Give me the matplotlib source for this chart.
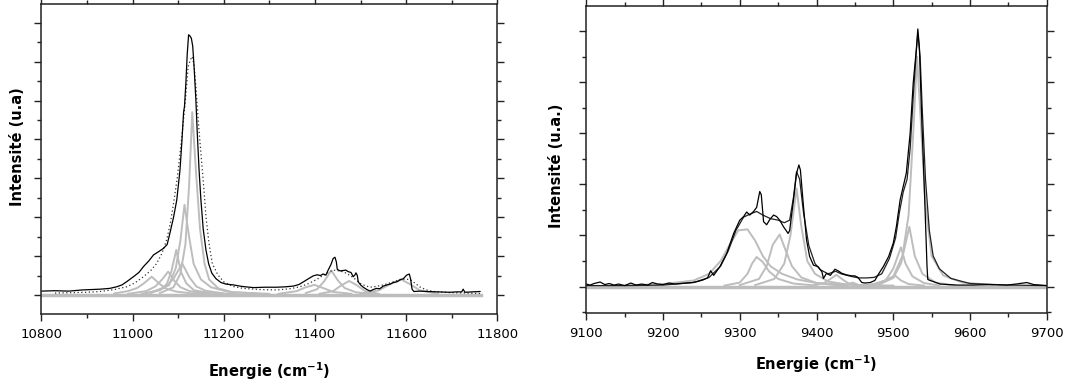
import numpy as np
import matplotlib
matplotlib.use('Agg')
import matplotlib.pyplot as plt
from matplotlib.ticker import MultipleLocator

# ---------------- left panel (10800 - 11800 cm-1) ----------------
left_exp_x = [10800, 10830, 10860, 10890, 10929, 10950, 10965, 10977, 10987, 11002, 11014, 11024,
              11036, 11046, 11058, 11068, 11076, 11082, 11090, 11097, 11104, 11108, 11112, 11114,
              11117, 11120, 11123, 11126, 11129, 11132, 11135, 11139, 11142, 11146, 11150, 11155,
              11161, 11167, 11174, 11183, 11194, 11205, 11221, 11240, 11265, 11290, 11316, 11335,
              11353, 11365, 11375, 11386, 11396, 11405, 11412, 11418, 11424, 11429, 11435, 11440,
              11444, 11447, 11449, 11455, 11462, 11468, 11473, 11479, 11484, 11488, 11490, 11493,
              11495, 11500, 11506, 11514, 11521, 11528, 11535, 11542, 11550, 11558, 11565, 11572,
              11580, 11587, 11594, 11601, 11605, 11607, 11610, 11613, 11617, 11630, 11645, 11670,
              11696, 11710, 11722, 11725, 11729, 11745, 11762]
left_exp_y = [0.10, 0.11, 0.10, 0.13, 0.15, 0.17, 0.21, 0.26, 0.34, 0.47, 0.58, 0.73,
              0.88, 1.03, 1.12, 1.20, 1.30, 1.59, 2.00, 2.44, 3.20, 3.90, 4.70, 4.85,
              5.45, 6.20, 6.69, 6.66, 6.60, 6.40, 5.87, 5.00, 4.16, 3.20, 2.44, 1.70,
              1.16, 0.80, 0.56, 0.42, 0.32, 0.28, 0.26, 0.22, 0.19, 0.20, 0.20, 0.21,
              0.23, 0.27, 0.34, 0.42, 0.49, 0.52, 0.50, 0.54, 0.51, 0.64, 0.78, 0.94,
              0.97, 0.85, 0.66, 0.62, 0.63, 0.64, 0.60, 0.58, 0.47, 0.52, 0.57, 0.50,
              0.34, 0.26, 0.20, 0.14, 0.10, 0.14, 0.17, 0.16, 0.23, 0.26, 0.28, 0.32,
              0.34, 0.39, 0.42, 0.51, 0.53, 0.54, 0.40, 0.15, 0.09, 0.10, 0.09, 0.08,
              0.07, 0.08, 0.08, 0.15, 0.07, 0.08, 0.09]

left_fit_x = [10830, 10900, 10929, 10960, 10987, 11005, 11024, 11040, 11053, 11065, 11075, 11083,
              11090, 11098, 11105, 11111, 11116, 11122, 11127, 11131, 11135, 11139, 11144, 11150,
              11156, 11161, 11168, 11175, 11187, 11200, 11220, 11243, 11280, 11316, 11345, 11367,
              11385, 11404, 11420, 11440, 11455, 11469, 11485, 11499, 11510, 11521, 11535, 11550,
              11570, 11587, 11600, 11609, 11620, 11631, 11645, 11660, 11700, 11762]
left_fit_y = [0.05, 0.07, 0.09, 0.14, 0.21, 0.31, 0.47, 0.63, 0.81, 1.08, 1.42, 1.85,
              2.36, 3.00, 3.73, 4.40, 5.02, 5.87, 6.05, 6.13, 5.90, 5.36, 4.50, 3.64,
              2.80, 2.02, 1.30, 0.81, 0.52, 0.34, 0.22, 0.17, 0.14, 0.13, 0.16, 0.21,
              0.29, 0.40, 0.52, 0.64, 0.62, 0.56, 0.44, 0.30, 0.24, 0.20, 0.22, 0.26,
              0.33, 0.40, 0.41, 0.39, 0.30, 0.20, 0.13, 0.09, 0.06, 0.04]

left_comp_x = [
    [10960, 10990, 11010, 11025, 11042, 11060, 11075, 11095, 11130, 11200],
    [10990, 11030, 11050, 11065, 11078, 11092, 11105, 11125, 11160, 11220],
    [11020, 11060, 11075, 11085, 11096, 11106, 11118, 11135, 11170, 11230],
    [11030, 11070, 11090, 11109, 11125, 11140, 11160, 11200],
    [11040, 11080, 11095, 11105, 11114, 11124, 11134, 11150, 11172, 11210, 11280],
    [11060, 11090, 11105, 11116, 11124, 11131, 11139, 11148, 11158, 11168, 11188, 11220, 11300],
    [11320, 11360, 11380, 11399, 11420, 11440, 11480],
    [11380, 11405, 11420, 11436, 11450, 11465, 11490, 11530],
    [11410, 11440, 11458, 11475, 11492, 11510, 11540],
    [11500, 11540, 11565, 11589, 11610, 11630, 11670],
]
left_comp_y = [
    [0.04, 0.10, 0.18, 0.30, 0.47, 0.28, 0.16, 0.09, 0.04, 0.01],
    [0.03, 0.10, 0.22, 0.40, 0.60, 0.36, 0.20, 0.10, 0.04, 0.01],
    [0.03, 0.12, 0.28, 0.60, 1.16, 0.60, 0.30, 0.12, 0.05, 0.02],
    [0.04, 0.18, 0.42, 0.81, 0.45, 0.22, 0.11, 0.04],
    [0.05, 0.25, 0.70, 1.40, 2.32, 1.50, 0.80, 0.40, 0.20, 0.08, 0.03],
    [0.05, 0.20, 0.55, 1.30, 2.80, 4.70, 3.20, 1.70, 0.80, 0.40, 0.17, 0.07, 0.03],
    [0.03, 0.10, 0.20, 0.26, 0.17, 0.08, 0.03],
    [0.05, 0.15, 0.35, 0.63, 0.38, 0.18, 0.07, 0.02],
    [0.03, 0.10, 0.25, 0.36, 0.25, 0.10, 0.03],
    [0.03, 0.12, 0.28, 0.40, 0.27, 0.12, 0.03],
]
left_base_x = [10800, 11765]

# ---------------- right panel (9100 - 9700 cm-1) ----------------
right_exp_x = [9100, 9105, 9110, 9118, 9124, 9130, 9136, 9142, 9150, 9158, 9165, 9172, 9180, 9186,
               9193, 9200, 9208, 9215, 9222, 9230, 9238, 9245, 9252, 9258, 9262, 9266, 9274, 9283,
               9292, 9300, 9305, 9309, 9313, 9318, 9322, 9326, 9328, 9331, 9335, 9339, 9344, 9348,
               9352, 9357, 9363, 9365, 9370, 9374, 9377, 9379, 9383, 9387, 9391, 9396, 9402, 9407,
               9409, 9413, 9418, 9424, 9428, 9433, 9439, 9446, 9450, 9454, 9459, 9463, 9470, 9476,
               9481, 9487, 9494, 9500, 9504, 9509, 9513, 9517, 9522, 9526, 9530, 9532, 9534, 9537,
               9541, 9544, 9545, 9548, 9552, 9561, 9583, 9604, 9625, 9648, 9660, 9674, 9683, 9700]
right_exp_y = [0.05, 0.03, 0.06, 0.09, 0.04, 0.06, 0.03, 0.05, 0.02, 0.07, 0.03, 0.05, 0.03, 0.08,
               0.05, 0.04, 0.07, 0.05, 0.06, 0.07, 0.08, 0.10, 0.13, 0.17, 0.31, 0.22, 0.39, 0.65,
               1.04, 1.30, 1.37, 1.46, 1.40, 1.47, 1.55, 1.86, 1.80, 1.27, 1.21, 1.31, 1.40, 1.37,
               1.30, 1.17, 1.04, 1.10, 1.70, 2.22, 2.38, 2.28, 1.57, 0.91, 0.59, 0.42, 0.39, 0.29,
               0.16, 0.26, 0.22, 0.34, 0.31, 0.26, 0.23, 0.21, 0.21, 0.18, 0.08, 0.07, 0.08, 0.12,
               0.25, 0.39, 0.59, 0.85, 1.17, 1.70, 1.96, 2.22, 3.00, 3.98, 4.63, 5.04, 4.70, 3.33,
               1.70, 0.39, 0.14, 0.12, 0.10, 0.05, 0.03, 0.03, 0.04, 0.03, 0.05, 0.08, 0.04, 0.02]

right_fit_x = [9100, 9150, 9200, 9240, 9260, 9275, 9285, 9295, 9305, 9315, 9322, 9330, 9340, 9350,
               9358, 9365, 9370, 9374, 9378, 9383, 9390, 9398, 9405, 9415, 9425, 9432, 9445, 9455,
               9465, 9475, 9485, 9495, 9503, 9508, 9513, 9518, 9522, 9526, 9530, 9532, 9535, 9538,
               9542, 9547, 9552, 9560, 9575, 9600, 9650, 9700]
right_fit_y = [0.02, 0.02, 0.03, 0.08, 0.18, 0.40, 0.70, 1.10, 1.36, 1.43, 1.47, 1.40, 1.33, 1.30,
               1.25, 1.30, 1.75, 2.25, 2.10, 1.45, 0.80, 0.45, 0.33, 0.25, 0.30, 0.25, 0.20, 0.17,
               0.17, 0.18, 0.25, 0.55, 0.95, 1.45, 1.85, 2.10, 2.70, 3.70, 4.60, 4.95, 4.50, 3.40,
               2.10, 1.10, 0.60, 0.35, 0.16, 0.06, 0.03, 0.02]

right_comp_x = [
    [9150, 9200, 9240, 9260, 9275, 9288, 9298, 9310, 9320, 9330, 9340, 9355, 9375, 9400, 9450, 9500],
    [9280, 9300, 9310, 9316, 9322, 9330, 9338, 9350, 9370, 9400],
    [9300, 9325, 9335, 9343, 9352, 9360, 9368, 9380, 9400, 9430],
    [9320, 9345, 9358, 9366, 9374, 9380, 9388, 9398, 9415, 9440],
    [9395, 9410, 9420, 9426, 9433, 9442, 9460],
    [9430, 9440, 9447, 9455, 9470],
    [9460, 9480, 9495, 9503, 9510, 9520, 9540],
    [9470, 9490, 9500, 9510, 9516, 9525, 9540, 9560],
    [9480, 9500, 9510, 9521, 9528, 9538, 9555, 9580],
    [9480, 9500, 9512, 9520, 9526, 9531, 9536, 9542, 9550, 9565, 9590, 9630],
]
right_comp_y = [
    [0.02, 0.05, 0.12, 0.25, 0.50, 0.85, 1.10, 1.12, 0.90, 0.60, 0.40, 0.25, 0.14, 0.07, 0.03, 0.02],
    [0.02, 0.08, 0.25, 0.45, 0.58, 0.48, 0.30, 0.15, 0.06, 0.02],
    [0.03, 0.15, 0.40, 0.82, 1.02, 0.70, 0.40, 0.18, 0.07, 0.02],
    [0.03, 0.15, 0.45, 1.00, 1.92, 1.20, 0.50, 0.25, 0.10, 0.04],
    [0.02, 0.07, 0.17, 0.23, 0.15, 0.06, 0.02],
    [0.01, 0.04, 0.08, 0.03, 0.01],
    [0.02, 0.06, 0.16, 0.21, 0.12, 0.05, 0.02],
    [0.03, 0.12, 0.35, 0.77, 0.45, 0.20, 0.07, 0.02],
    [0.03, 0.17, 0.45, 1.17, 0.60, 0.25, 0.08, 0.02],
    [0.05, 0.20, 0.60, 1.40, 3.00, 4.50, 3.20, 1.60, 0.60, 0.22, 0.08, 0.03],
]
right_base_x = [9100, 9700]

gray = '#bdbdbd'
label_font = dict(fontsize=10.5, fontweight='bold')

fig = plt.figure(figsize=(10.76, 3.83), dpi=100)
ax1 = fig.add_axes([0.0384, 0.180, 0.4238, 0.8094])
ax2 = fig.add_axes([0.5449, 0.1836, 0.4279, 0.8008])

# left
ax1.plot(left_base_x, [0, 0], color=gray, lw=2.5)
for cx, cy in zip(left_comp_x, left_comp_y):
    ax1.plot(cx, cy, color=gray, lw=1.4)
ax1.plot(left_fit_x, left_fit_y, color='#333333', lw=0.9, ls=(0, (1, 2)))
ax1.plot(left_exp_x, left_exp_y, color='black', lw=0.9)
ax1.set_xlim(10800, 11800)
ax1.set_ylim(-0.49, 7.48)
ax1.xaxis.set_major_locator(MultipleLocator(200))
ax1.xaxis.set_minor_locator(MultipleLocator(100))
ax1.set_ylabel('Intensité (u.a)', **label_font)
ax1.set_xlabel('Energie (cm$^{\\mathbf{-1}}$)', **label_font)
ax1.yaxis.set_label_coords(-0.035, 0.54)
ax1.xaxis.set_label_coords(0.5, -0.148)

# right
ax2.plot(right_base_x, [0, 0], color=gray, lw=2.5)
for cx, cy in zip(right_comp_x, right_comp_y):
    ax2.plot(cx, cy, color=gray, lw=1.4)
ax2.plot(right_fit_x, right_fit_y, color='#222222', lw=0.9)
ax2.plot(right_exp_x, right_exp_y, color='black', lw=0.9)
ax2.set_xlim(9100, 9700)
ax2.set_ylim(-0.51, 5.49)
ax2.xaxis.set_major_locator(MultipleLocator(100))
ax2.xaxis.set_minor_locator(MultipleLocator(50))
ax2.set_ylabel('Intensité (u.a.)', **label_font)
ax2.set_xlabel('Energie (cm$^{\\mathbf{-1}}$)', **label_font)
ax2.yaxis.set_label_coords(-0.049, 0.48)
ax2.xaxis.set_label_coords(0.5, -0.131)

for ax in (ax1, ax2):
    ax.yaxis.set_major_locator(MultipleLocator(1))
    ax.yaxis.set_minor_locator(MultipleLocator(0.5))
    ax.tick_params(which='both', direction='out', top=True, right=True, labelleft=False,
                   labelsize=9.5, width=1, color='#222222', pad=5)
    ax.tick_params(which='major', length=5)
    ax.tick_params(which='minor', length=3)
    for s in ax.spines.values():
        s.set_linewidth(1.1)
        s.set_color('#222222')

fig.savefig('out.png', dpi=100)
